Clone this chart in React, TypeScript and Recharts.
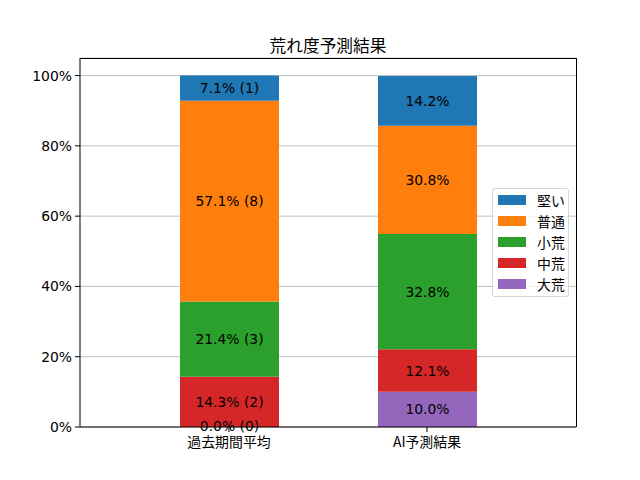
import { BarChart, Bar, XAxis, YAxis, CartesianGrid, LabelList } from 'recharts';

const CATEGORIES = ['過去期間平均', 'AI予測結果'];

// stacked bottom -> top
const SERIES = [
    { key: '大荒', color: '#9467bd' },
    { key: '中荒', color: '#d62728' },
    { key: '小荒', color: '#2ca02c' },
    { key: '普通', color: '#ff7f0e' },
    { key: '堅い', color: '#1f77b4' },
];

// percent per category, in SERIES order
const PAST_PCT = [0.0, 14.29, 21.43, 57.14, 7.14];
const PAST_COUNT = [0, 2, 3, 8, 1];
const AI_PCT = [10.0, 12.1, 32.8, 30.8, 14.2];

const Y_TICKS = [0, 20, 40, 60, 80, 100];

const data = CATEGORIES.map((name, ci) => {
    const row: Record<string, string | number> = { name };
    SERIES.forEach((s, si) => {
        row[s.key] = ci === 0 ? PAST_PCT[si] : AI_PCT[si];
    });
    return row;
});

const FONT = '"DejaVu Sans", "Noto Sans CJK JP", sans-serif';
const JP_FONT = '"Noto Sans CJK JP", sans-serif';
const FS = 13.9;

const pctOf = (ci: number, si: number) => (ci === 0 ? PAST_PCT[si] : AI_PCT[si]);

function labelText(ci: number, si: number) {
    if (ci === 0) return `${PAST_PCT[si].toFixed(1)}% (${PAST_COUNT[si]})`;
    return `${AI_PCT[si].toFixed(1)}%`;
}

function makeLabel(si: number) {
    return (props: any) => {
        const { x, y, width, height, value } = props;
        const ci = CATEGORIES.indexOf(value);
        if (ci < 0) return null;
        const cx = x + width / 2;
        // zero-height segments directly below are not drawn by recharts,
        // so put their labels at this bar's bottom edge
        const extra: number[] = [];
        for (let j = si - 1; j >= 0 && pctOf(ci, j) === 0; j--) extra.push(j);
        return (
            <g>
                <text x={cx} y={y + height / 2} textAnchor="middle" dominantBaseline="central"
                    fontFamily={FONT} fontSize={FS} fill="#000">
                    {labelText(ci, si)}
                </text>
                {extra.map((j) => (
                    <text key={j} x={cx} y={y + height - 1} textAnchor="middle" dominantBaseline="central"
                        fontFamily={FONT} fontSize={FS} fill="#000">
                        {labelText(ci, j)}
                    </text>
                ))}
            </g>
        );
    };
}

export default function App() {
    return (
        <div style={{ position: 'fixed', left: 0, top: 0, width: 640, height: 480, background: '#fff', fontFamily: FONT }}>
            <div
                style={{
                    position: 'absolute',
                    left: 80,
                    width: 496,
                    top: 33,
                    textAlign: 'center',
                    fontSize: 16.7,
                    color: '#000',
                    fontFamily: JP_FONT,
                    lineHeight: '24px',
                }}
            >
                荒れ度予測結果
            </div>
            <BarChart
                width={640}
                height={480}
                data={data}
                margin={{ top: 58, right: 64, left: 0, bottom: 0 }}
            >
                <CartesianGrid vertical={false} stroke="#b0b0b0" strokeWidth={0.8} />
                <XAxis
                    dataKey="name"
                    height={53}
                    padding={{ left: 50, right: 50 }}
                    axisLine={{ stroke: '#000', strokeWidth: 1 }}
                    tickLine={{ stroke: '#000' }}
                    tickSize={5}
                    tickMargin={5}
                    tick={{ fill: '#000', fontSize: FS, fontFamily: JP_FONT }}
                />
                <YAxis
                    width={80}
                    domain={[0, 105]}
                    ticks={Y_TICKS}
                    allowDataOverflow
                    tickFormatter={(v) => `${v}%`}
                    axisLine={{ stroke: '#000', strokeWidth: 1 }}
                    tickLine={{ stroke: '#000' }}
                    tickSize={5}
                    tickMargin={3}
                    tick={{ fill: '#000', fontSize: FS, fontFamily: FONT }}
                />
                {SERIES.map((s, si) => (
                    <Bar
                        key={s.key}
                        dataKey={s.key}
                        stackId="a"
                        fill={s.color}
                        barSize={99}
                        isAnimationActive={false}
                    >
                        <LabelList dataKey="name" content={makeLabel(si)} />
                    </Bar>
                ))}
            </BarChart>
            {/* top and right spines */}
            <div
                style={{
                    position: 'absolute',
                    left: 80,
                    top: 58,
                    width: 497,
                    height: 369,
                    boxSizing: 'border-box',
                    border: '1px solid #000',
                    borderBottom: 'none',
                    borderLeft: 'none',
                    pointerEvents: 'none',
                }}
            />
            <div
                style={{
                    position: 'absolute',
                    left: 492,
                    top: 188,
                    width: 77,
                    height: 109,
                    boxSizing: 'border-box',
                    border: '1px solid #d6d6d6',
                    borderRadius: 3,
                    background: 'rgba(255,255,255,0.8)',
                    padding: '1px 0 0 5px',
                }}
            >
                {[...SERIES].reverse().map((s) => (
                    <div key={s.key} style={{ display: 'flex', alignItems: 'center', height: 20.8, fontSize: FS, color: '#000', fontFamily: JP_FONT }}>
                        <span style={{ display: 'inline-block', width: 28, height: 10, background: s.color, marginRight: 11 }} />
                        <span>{s.key}</span>
                    </div>
                ))}
            </div>
        </div>
    );
}
